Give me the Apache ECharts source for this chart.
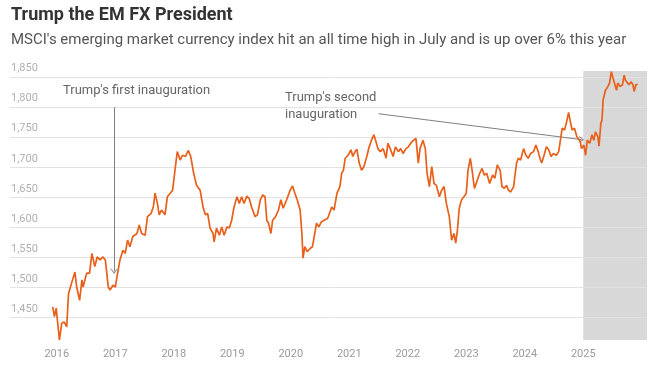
<!DOCTYPE html>
<html>
<head>
<meta charset="utf-8">
<script src="https://cdn.jsdelivr.net/npm/echarts@6/dist/echarts.min.js"></script>
<style>html,body{margin:0;padding:0;background:#fff}#c{width:653px;height:365px}</style>
</head>
<body>
<div id="c"></div>
<script>
// Dates as decimal years
const dates = [2015.93,2015.96,2015.99,2016.045,2016.085,2016.125,2016.17,2016.2,2016.26,2016.31,2016.34,2016.39,2016.43,2016.45,2016.51,2016.56,2016.6,2016.63,2016.65,2016.69,2016.74,2016.79,2016.83,2016.85,2016.88,2016.91,2016.96,2017.0,2017.04,2017.08,2017.13,2017.17,2017.21,2017.25,2017.3,2017.37,2017.41,2017.45,2017.51,2017.55,2017.61,2017.65,2017.68,2017.72,2017.75,2017.79,2017.85,2017.89,2017.94,2017.98,2018.02,2018.06,2018.11,2018.15,2018.2,2018.25,2018.29,2018.34,2018.39,2018.45,2018.5,2018.54,2018.58,2018.62,2018.67,2018.69,2018.73,2018.78,2018.82,2018.86,2018.91,2018.95,2018.99,2019.03,2019.08,2019.12,2019.16,2019.2,2019.25,2019.29,2019.33,2019.39,2019.43,2019.48,2019.52,2019.56,2019.59,2019.62,2019.66,2019.69,2019.74,2019.79,2019.83,2019.87,2019.93,2019.99,2020.03,2020.07,2020.11,2020.16,2020.19,2020.21,2020.24,2020.28,2020.33,2020.37,2020.41,2020.44,2020.48,2020.52,2020.57,2020.63,2020.7,2020.74,2020.79,2020.84,2020.87,2020.9,2020.93,2020.98,2021.03,2021.06,2021.1,2021.13,2021.17,2021.21,2021.25,2021.3,2021.34,2021.38,2021.42,2021.45,2021.49,2021.53,2021.58,2021.63,2021.66,2021.7,2021.75,2021.79,2021.84,2021.88,2021.92,2021.97,2022.01,2022.05,2022.1,2022.14,2022.18,2022.21,2022.26,2022.3,2022.33,2022.37,2022.41,2022.45,2022.49,2022.54,2022.58,2022.62,2022.66,2022.71,2022.75,2022.79,2022.82,2022.85,2022.88,2022.92,2022.96,2023.0,2023.03,2023.07,2023.1,2023.14,2023.18,2023.23,2023.27,2023.31,2023.35,2023.4,2023.45,2023.49,2023.53,2023.56,2023.58,2023.61,2023.65,2023.69,2023.72,2023.76,2023.81,2023.83,2023.86,2023.89,2023.93,2023.98,2024.02,2024.06,2024.1,2024.15,2024.19,2024.23,2024.26,2024.29,2024.33,2024.37,2024.41,2024.45,2024.49,2024.54,2024.58,2024.61,2024.64,2024.68,2024.71,2024.75,2024.78,2024.81,2024.85,2024.89,2024.92,2024.95,2024.97,2025.01,2025.04,2025.07,2025.11,2025.15,2025.18,2025.21,2025.25,2025.27,2025.3,2025.32,2025.34,2025.37,2025.38,2025.42,2025.45,2025.48,2025.51,2025.54,2025.57,2025.59,2025.63,2025.67,2025.7,2025.72,2025.75,2025.78,2025.82,2025.85,2025.87,2025.9,2025.93];
const values = [1468,1452,1466,1413,1441,1443,1435,1490,1510,1526,1501,1479,1513,1501,1524,1524,1557,1560,1535,1551,1546,1551,1546,1546,1501,1496,1504,1501,1524,1546,1562,1557,1579,1568,1585,1590,1604,1590,1587,1618,1623,1634,1657,1640,1621,1629,1621,1651,1657,1662,1695,1726,1712,1720,1718,1728,1718,1690,1670,1662,1634,1621,1623,1599,1590,1576,1599,1587,1601,1587,1601,1599,1612,1634,1651,1640,1651,1640,1652,1648,1634,1618,1621,1646,1654,1651,1612,1607,1590,1612,1618,1629,1646,1632,1646,1662,1669,1657,1646,1629,1590,1549,1568,1560,1565,1568,1590,1607,1601,1609,1612,1615,1634,1629,1657,1668,1690,1695,1715,1720,1729,1718,1726,1730,1707,1695,1701,1718,1734,1745,1754,1745,1731,1726,1731,1715,1740,1731,1718,1734,1726,1731,1723,1731,1734,1740,1745,1748,1707,1731,1745,1731,1690,1668,1701,1673,1670,1651,1662,1668,1640,1618,1579,1590,1574,1596,1632,1646,1651,1657,1695,1715,1695,1665,1676,1690,1698,1687,1690,1673,1687,1682,1704,1701,1695,1668,1665,1670,1662,1659,1668,1684,1707,1715,1712,1731,1720,1715,1723,1726,1737,1726,1715,1707,1720,1734,1729,1718,1723,1720,1726,1745,1765,1762,1773,1791,1776,1762,1765,1751,1748,1743,1731,1737,1720,1745,1740,1754,1745,1759,1751,1735,1773,1778,1812,1815,1828,1834,1840,1859,1848,1845,1828,1840,1834,1837,1853,1845,1848,1837,1842,1837,1826,1837,1838];
const yearTicks = [2016,2017,2018,2019,2020,2021,2022,2023,2024,2025];
const valueTicks = [1450,1500,1550,1600,1650,1700,1750,1800,1850];
const shadeStart = 2025.0;
const xMin = 2015.2, xMax = 2026.09;
const yMin = 1413, yMax = 1860;
const firstInaug = 2016.98, firstInaugTop = 1800, firstInaugEnd = 1527;
const secondArrowFrom = [2021.5, 1789], secondArrowTo = [2024.97, 1746];

const chart = echarts.init(document.getElementById('c'), null, {renderer:'canvas'});
const FONT = 'Roboto';
const chevron = 'path://M0,9 L5,0 L10,9 L8.6,9 L5,2.6 L1.4,9 Z';
chart.setOption({
  animation:false,
  backgroundColor:'#ffffff',
  grid:{left:10,right:6,top:71,bottom:25,containLabel:false},
  graphic:[
    {type:'text',left:11,top:6,style:{text:'Trump the EM FX President',font:'bold 18px Roboto',fill:'#333'}},
    {type:'text',left:11,top:33,style:{text:"MSCI's emerging market currency index hit an all time high in July and is up over 6% this year",font:'15px Roboto',fill:'#555'}},
    {type:'text',left:63,top:84,style:{text:"Trump's first inauguration",font:'13px Roboto',fill:'#666'}},
    {type:'text',left:285,top:89,style:{text:"Trump's second\ninauguration",font:'13px Roboto',fill:'#666',lineHeight:17}}
  ],
  xAxis:{type:'value',min:xMin,max:xMax,
    axisLine:{show:false},axisTick:{show:false,customValues:yearTicks},splitLine:{show:false},
    axisLabel:{customValues:yearTicks,formatter:v=>String(Math.round(v)),color:'#9a9a9a',fontFamily:FONT,fontSize:11,margin:9}},
  yAxis:{type:'value',min:yMin,max:yMax,
    axisLine:{show:false},axisTick:{show:false,customValues:valueTicks},
    splitLine:{show:true,lineStyle:{color:'#e2e2e2',width:1}},
    axisLabel:{customValues:valueTicks,inside:true,verticalAlign:'bottom',margin:1,padding:[0,0,3,0],
      formatter:v=>v.toLocaleString('en-US'),color:'#b0b0b0',fontFamily:FONT,fontSize:11}},
  series:[
  {
    type:'line',data:dates.map((d,i)=>[d,values[i]]),showSymbol:false,
    lineStyle:{color:'#e8601a',width:1.7},z:10,
    markArea:{silent:true,z:-1,itemStyle:{color:'#d8d8d8'},data:[[{xAxis:shadeStart},{xAxis:xMax}]]},
    markLine:{silent:true,symbol:['none',chevron],symbolSize:[7,5],animation:false,z:4,
      lineStyle:{color:'#808080',width:1,type:'solid'},label:{show:false},
      data:[
        [{coord:[firstInaug,firstInaugTop]},{coord:[firstInaug,firstInaugEnd]}],
        [{coord:secondArrowFrom},{coord:secondArrowTo}]
      ]}
  }]
});
</script>
</body>
</html>
